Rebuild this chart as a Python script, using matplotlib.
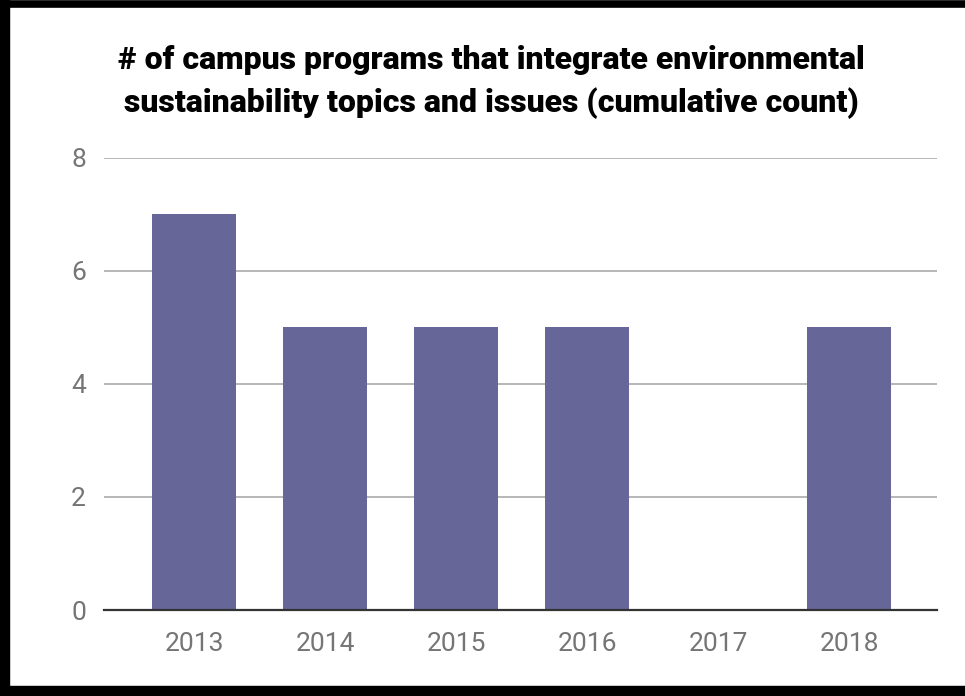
import matplotlib.pyplot as plt
from matplotlib.lines import Line2D
import numpy as np

# Data
years = ['2013', '2014', '2015', '2016', '2017', '2018']
programs = [7, 5, 5, 5, 0, 5]
y_ticks = [0, 2, 4, 6, 8]

plt.rcParams['font.family'] = ['Roboto', 'DejaVu Sans']

fig = plt.figure(figsize=[9.65, 6.96], dpi=100)
ax = fig.add_axes([104 / 965, 1 - 610 / 696, (937 - 104) / 965, (610 - 158) / 696])

x = np.arange(len(years))
ax.bar(x, programs, width=0.64, color='#666699', zorder=3)

ax.set_xlim(-0.69, 5.67)
ax.set_ylim(0, 8)
ax.set_xticks(x, years)
ax.set_yticks(y_ticks, [str(t) for t in y_ticks])
ax.tick_params(axis='x', length=0, pad=16, labelsize=19, labelcolor='#757575')
ax.tick_params(axis='y', length=0, pad=13, labelsize=19, labelcolor='#757575')

ax.grid(True, axis='y', color='#aaaaaa', linewidth=1.2, zorder=0)
for side in ['top', 'right', 'left']:
    ax.spines[side].set_visible(False)
ax.spines['bottom'].set_color('#333333')
ax.spines['bottom'].set_linewidth(1.6)
ax.spines['bottom'].set_zorder(4)

fig.text(0.509, 1 - 60 / 696, '# of campus programs that integrate environmental',
         ha='center', va='center', fontsize=23, fontweight='heavy', color='black')
fig.text(0.509, 1 - 103 / 696, 'sustainability topics and issues (cumulative count)',
         ha='center', va='center', fontsize=23, fontweight='heavy', color='black')

# black frame on left, top and bottom
fig.add_artist(Line2D([5 / 965, 5 / 965], [0, 1], transform=fig.transFigure, color='black', linewidth=7.5))
fig.add_artist(Line2D([0, 1], [1 - 3.5 / 696, 1 - 3.5 / 696], transform=fig.transFigure, color='black', linewidth=5.5))
fig.add_artist(Line2D([0, 1], [5 / 696, 5 / 696], transform=fig.transFigure, color='black', linewidth=7.5))

plt.savefig('out.png', dpi=100)
